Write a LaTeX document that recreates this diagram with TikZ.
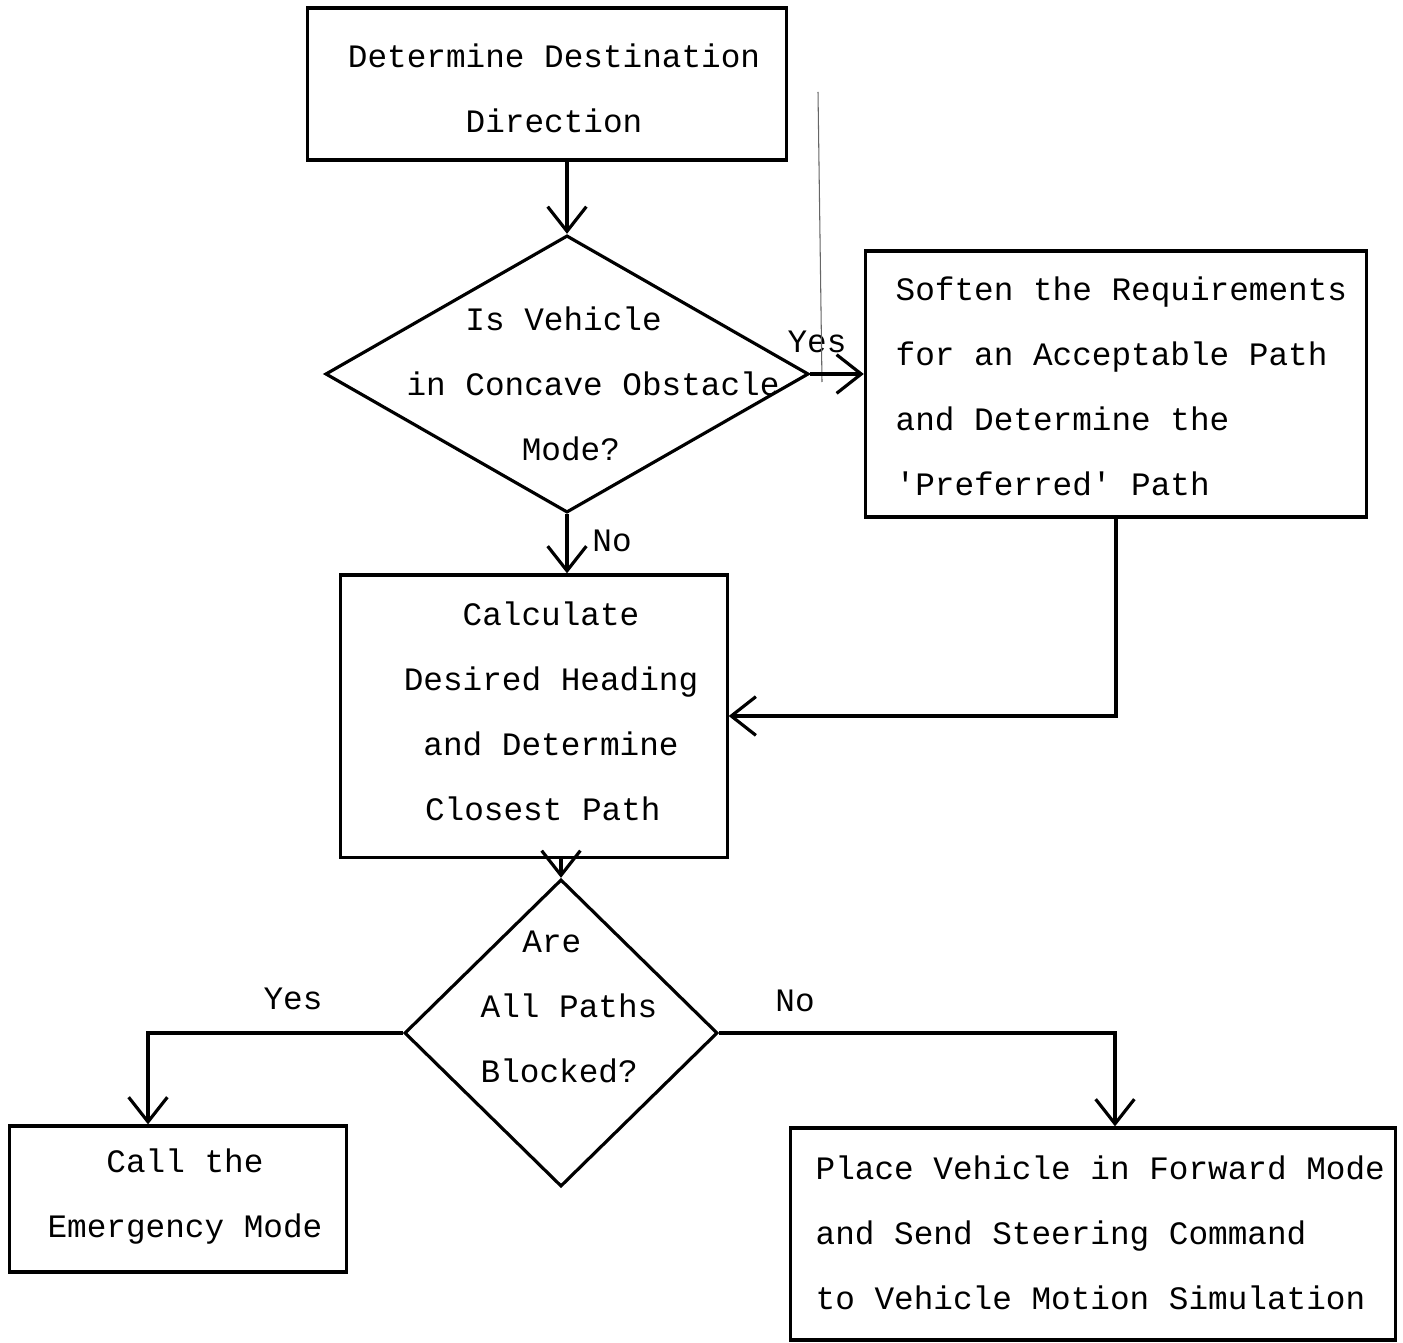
\documentclass[tikz,border=0pt]{standalone}
\usepackage{fontspec}
\setmonofont{Liberation Mono}
\usetikzlibrary{shapes.geometric,arrows.meta,calc}
\begin{document}
\begin{tikzpicture}[x=0.01cm,y=-0.01cm,
  every node/.style={font=\ttfamily\fontsize{9.3}{18.5}\selectfont},
  box/.style={draw,line width=0.9pt,rectangle,inner sep=0pt},
  dia/.style={draw,line width=0.9pt,diamond,inner sep=0pt},
  txt/.style={inner sep=0pt},
  arr/.style={line width=0.9pt,-{Straight Barb[length=7pt,width=11pt]}},
  lab/.style={inner sep=0pt}]
\useasboundingbox (0,0) rectangle (1403,1343);
% boxes
\node[box,minimum width=4.78cm,minimum height=1.52cm] (b1) at (547,84) {};
\node[txt,align=center] (b1t) at (554,88) {Determine Destination\\Direction};
\node[dia,minimum width=4.83cm,minimum height=2.77cm] (d1) at (567,374) {};
\node[txt,align=center] (d1t) at (593,384) {Is Vehicle\kern1.8em\\in Concave Obstacle\\Mode?\kern1.35em};
\node[box,minimum width=5.01cm,minimum height=2.66cm] (b2) at (1116,384) {};
\node[txt,align=left,anchor=west] (b2t) at (895,386) {Soften the Requirements\\for an Acceptable Path\\and Determine the\\'Preferred' Path};
\node[box,minimum width=3.86cm,minimum height=2.82cm] (b3) at (534,716) {};
\node[txt,align=center] (b3t) at (551,711) {Calculate\\Desired Heading\\and Determine\\Closest Path\kern0.5em};
\node[dia,minimum width=3.13cm,minimum height=3.07cm] (d2) at (561,1033) {};
\node[txt,align=center] (d2t) at (569,1007) {Are\kern1.05em\\All Paths\\Blocked?\kern0.6em};
\node[box,minimum width=3.36cm,minimum height=1.46cm] (b4) at (178,1199) {};
\node[txt,align=center] (b4t) at (185,1197) {Call the\\Emergency Mode};
\node[box,minimum width=6.04cm,minimum height=2.12cm] (b5) at (1093,1234) {};
\node[txt,align=left,anchor=west] (b5t) at (815,1233) {Place Vehicle in Forward Mode\\and Send Steering Command\\to Vehicle Motion Simulation};
% labels
\node[lab] (l1) at (817,342) {Yes};
\node[lab] (l2) at (612,541) {No};
\node[lab] (l3) at (293,999) {Yes};
\node[lab] (l4) at (795,1001) {No};
% stray scan line
\coordinate (s1) at (818,92);
\coordinate (s2) at (822,382);
\draw[line width=0.3pt,black!60] (s1) -- (s2);
% connectors
\draw[arr] (d1.north |- b1.south) -- (d1.north);
\draw[arr] (d1.east) -- (d1.east -| b2.west);
\draw[arr] (d1.south) -- (d1.south |- b3.north);
\draw[arr] (b2.south) |- (b3.east);
\draw[arr] (d2.north |- b3.south) -- (d2.north);
\coordinate (c4) at ($(b4.north)+(-30,0)$);
\coordinate (c5) at ($(b5.north)+(22,0)$);
\draw[arr] (d2.west) -| (c4);
\draw[arr] (d2.east) -| (c5);
\end{tikzpicture}
\end{document}
